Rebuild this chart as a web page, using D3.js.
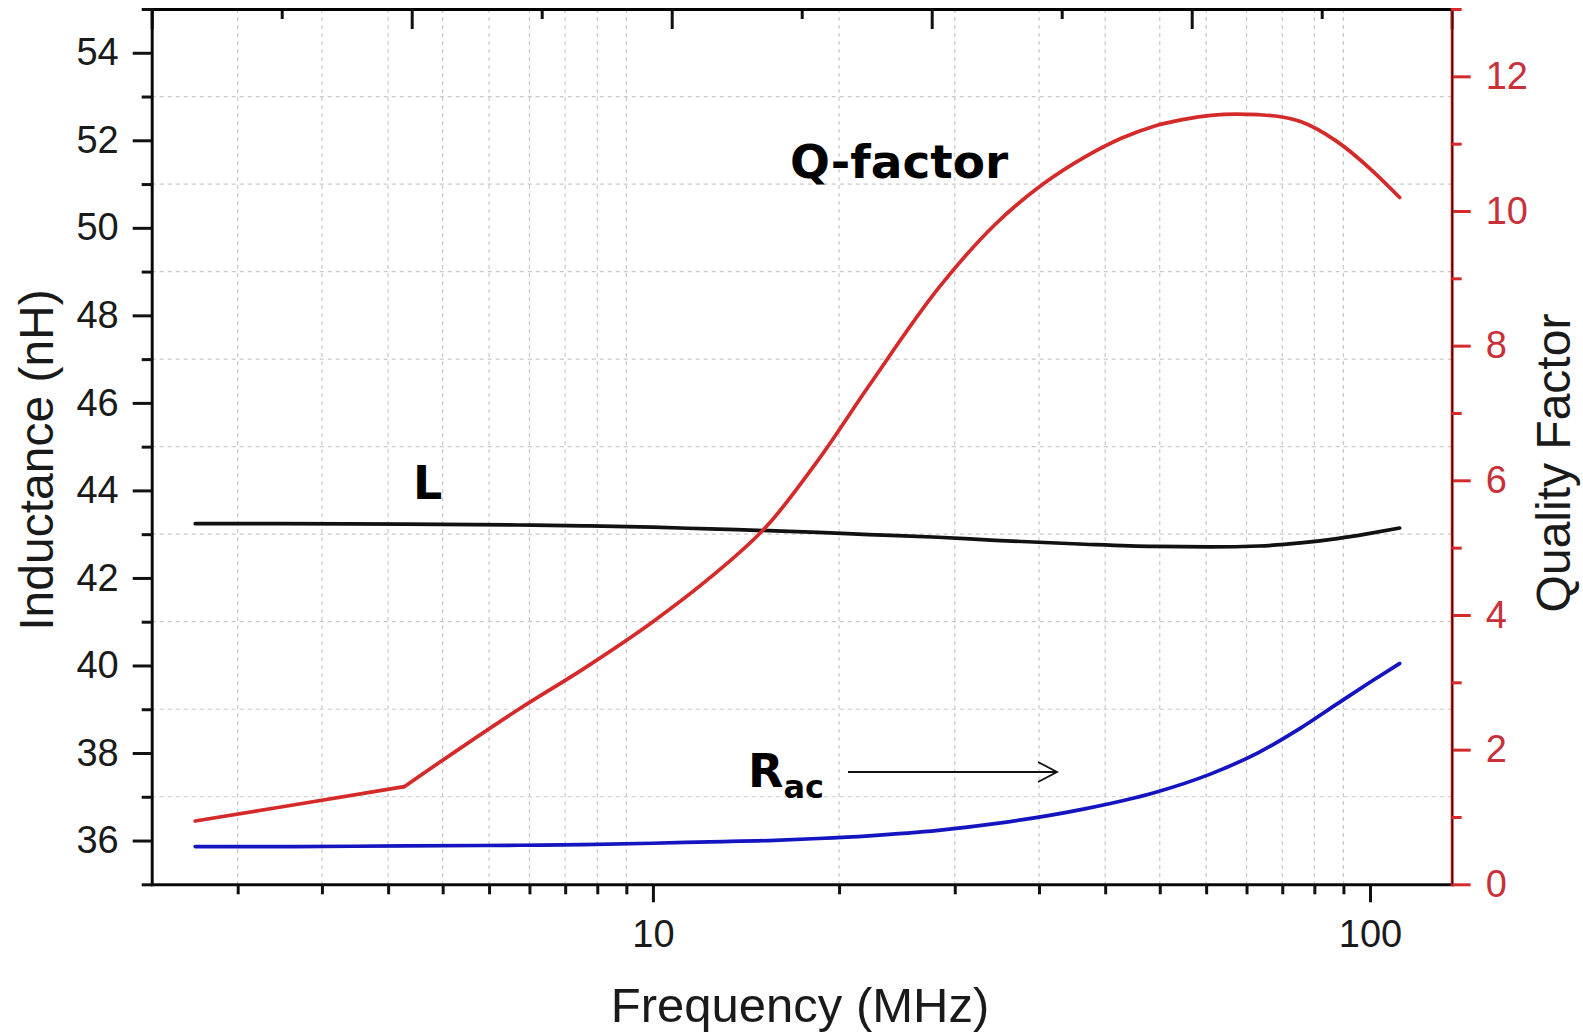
<!DOCTYPE html>
<html>
<head>
<meta charset="utf-8">
<script src="https://cdn.jsdelivr.net/npm/d3@7"></script>
<style>
  body { margin: 0; background: #fff; }
  svg { display: block; }
</style>
</head>
<body>
<div id="chart"></div>
<script>
// données
const freqMHz = [2.3, 3, 4.5, 6.5, 8, 10, 12, 14.5, 17, 20, 25, 30, 40, 50, 60, 70, 80, 90, 100, 110];
const inductance = [43.24, 43.24, 43.23, 43.21, 43.19, 43.16, 43.12, 43.08, 43.04, 42.99, 42.93, 42.86, 42.77, 42.72, 42.71, 42.73, 42.8, 42.9, 43.02, 43.14];
const rac = [0.56, 0.56, 0.57, 0.58, 0.59, 0.61, 0.63, 0.65, 0.68, 0.72, 0.8, 0.9, 1.12, 1.36, 1.64, 1.96, 2.32, 2.68, 3.0, 3.28];

// facteur Q (cassure nette vers 4.5 MHz)
const qFreq = [2.3, 3, 4.5, 6.5, 8, 10, 12, 14.5, 17, 20, 25, 30, 35, 40, 45, 50, 55, 60, 65, 70, 75, 80, 90, 100, 110];
const qFactor = [0.94, 1.14, 1.45, 2.6, 3.2, 3.9, 4.55, 5.35, 6.3, 7.4, 8.85, 9.8, 10.4, 10.8, 11.08, 11.26, 11.36, 11.42, 11.44, 11.43, 11.4, 11.33, 11.03, 10.63, 10.2];
const qKink = 2; // indice de la cassure

// graduations
const leftMajor = [36, 38, 40, 42, 44, 46, 48, 50, 52, 54];
const leftMinor = [35, 37, 39, 41, 43, 45, 47, 49, 51, 53, 55];
const rightMajor = [0, 2, 4, 6, 8, 10, 12];
const rightMinor = [1, 3, 5, 7, 9, 11, 13];
const bottomMajor = [10, 100];
const bottomMinor = [2.636, 3.455, 4.273, 5.091, 5.909, 6.727, 7.545, 8.364, 9.182,
  18.18, 26.36, 34.55, 42.73, 50.91, 59.09, 67.27, 75.45, 83.64, 91.82];
const topTicks = [0, 1, 2, 3, 4, 5, 6, 7, 8, 9, 10];

const width = 1583;
const height = 1034;
const x0 = 151.7, x1 = 1451.7, yTop = 9, yBot = 884.3;

const red = "#d42a2a";
const blue = "#1414c0";
const font = "'Liberation Sans', Arial, sans-serif";

let svg = d3.select("#chart")
  .append("svg")
  .attr("width", width)
  .attr("height", height);

let x = d3.scaleLog().domain([2, 130]).range([x0, x1]);
let yL = d3.scaleLinear().domain([35, 55]).range([yBot, yTop]);
let yR = d3.scaleLinear().domain([0, 13]).range([yBot, yTop]);
let xTop = d3.scaleLinear().domain([0, 10]).range([x0, x1]);

// grille pointillée
let grid = svg.append("g")
  .attr("stroke", "#c9c9c9")
  .attr("stroke-width", 1.2)
  .attr("stroke-dasharray", "4,4");

grid.selectAll("line.v")
  .data(bottomMinor)
  .join("line")
  .attr("class", "v")
  .attr("x1", d => x(d)).attr("x2", d => x(d))
  .attr("y1", yTop).attr("y2", yBot);

grid.selectAll("line.h")
  .data(leftMinor.filter(d => d > 35 && d < 55))
  .join("line")
  .attr("class", "h")
  .attr("x1", x0).attr("x2", x1)
  .attr("y1", d => yL(d)).attr("y2", d => yL(d));

// courbes
function drawLine(fs, vs, yScale, color, curve) {
  let line = d3.line()
    .x(d => x(d[0]))
    .y(d => yScale(d[1]))
    .curve(curve);
  svg.append("path")
    .datum(fs.map((f, i) => [f, vs[i]]))
    .attr("d", line)
    .attr("fill", "none")
    .attr("stroke", color)
    .attr("stroke-width", 3.7)
    .attr("stroke-linejoin", "round")
    .attr("stroke-linecap", "round");
}

drawLine(freqMHz, inductance, yL, "#111", d3.curveMonotoneX);
drawLine(freqMHz, rac, yR, blue, d3.curveMonotoneX);
drawLine(qFreq.slice(0, qKink + 1), qFactor.slice(0, qKink + 1), yR, red, d3.curveLinear);
drawLine(qFreq.slice(qKink), qFactor.slice(qKink), yR, red, d3.curveMonotoneX);

// axes
function styleAxis(g, color, width) {
  g.select(".domain").attr("stroke", color).attr("stroke-width", width).attr("stroke-linecap", "square");
  g.selectAll(".tick line").attr("stroke", color).attr("stroke-width", 3);
  g.selectAll(".tick text")
    .attr("fill", color === "#111" ? "#1a1a1a" : "#c8303a")
    .style("font-family", font)
    .style("font-size", "38px");
}

// axe du haut (sans étiquettes, graduations vers l'intérieur)
let gTop = svg.append("g").attr("transform", `translate(0,${yTop})`);
gTop.call(d3.axisBottom(xTop).tickValues(topTicks.filter(d => d % 2 === 1)).tickSize(10).tickSizeOuter(0).tickFormat(""));
gTop.append("g").call(d3.axisBottom(xTop).tickValues(topTicks.filter(d => d % 2 === 0)).tickSize(20).tickSizeOuter(0).tickFormat(""));
styleAxis(gTop, "#111", 3);
gTop.selectAll(".domain").attr("stroke-width", 3);

// axe du bas
let gBot = svg.append("g").attr("transform", `translate(0,${yBot})`);
gBot.call(d3.axisBottom(x).tickValues(bottomMajor).tickSize(18).tickSizeOuter(0).tickPadding(18).tickFormat(d3.format("d")));
gBot.append("g").call(d3.axisBottom(x).tickValues(bottomMinor).tickSize(10).tickSizeOuter(0).tickFormat(""));
styleAxis(gBot, "#111", 3);

// axe gauche
let gLeft = svg.append("g").attr("transform", `translate(${x0},0)`);
gLeft.call(d3.axisLeft(yL).tickValues(leftMajor).tickSize(19).tickSizeOuter(0).tickPadding(14));
gLeft.append("g").call(d3.axisLeft(yL).tickValues(leftMinor).tickSize(10).tickSizeOuter(0).tickFormat(""));
styleAxis(gLeft, "#111", 3);

// axe droit (rouge)
let gRight = svg.append("g").attr("transform", `translate(${x1},0)`);
gRight.call(d3.axisRight(yR).tickValues(rightMajor).tickSize(19).tickSizeOuter(0).tickPadding(15));
gRight.append("g").call(d3.axisRight(yR).tickValues(rightMinor).tickSize(10).tickSizeOuter(0).tickFormat(""));
styleAxis(gRight, red, 3);

// titres des axes
svg.append("text")
  .attr("x", 800).attr("y", 1022)
  .attr("text-anchor", "middle")
  .style("font-family", font).style("font-size", "49px").attr("fill", "#1a1a1a")
  .text("Frequency (MHz)");

svg.append("text")
  .attr("transform", "translate(53,460) rotate(-90)")
  .attr("text-anchor", "middle")
  .style("font-family", font).style("font-size", "48px").attr("fill", "#1a1a1a")
  .text("Inductance (nH)");

svg.append("text")
  .attr("transform", "translate(1570,463) rotate(-90)")
  .attr("text-anchor", "middle")
  .style("font-family", font).style("font-size", "48px").attr("fill", "#1a1a1a")
  .text("Quality Factor");

// annotations
let bold = "'DejaVu Sans', Verdana, sans-serif";

svg.append("text")
  .attr("x", 790).attr("y", 178)
  .style("font-family", bold).style("font-weight", "bold").style("font-size", "47px")
  .text("Q-factor");

svg.append("text")
  .attr("x", 413).attr("y", 499)
  .style("font-family", bold).style("font-weight", "bold").style("font-size", "46px")
  .text("L");

let rText = svg.append("text")
  .attr("x", 748).attr("y", 787)
  .style("font-family", bold).style("font-weight", "bold").style("font-size", "46px");
rText.append("tspan").text("R");
rText.append("tspan").attr("dy", 11).style("font-size", "32px").text("ac");

// flèche vers l'axe de droite
svg.append("line")
  .attr("x1", 848).attr("x2", 1056)
  .attr("y1", 772).attr("y2", 772)
  .attr("stroke", "#111").attr("stroke-width", 1.8);
svg.append("path")
  .attr("d", "M1038,762 L1057,772 L1038,782")
  .attr("fill", "none").attr("stroke", "#111").attr("stroke-width", 1.8);
</script>
</body>
</html>
